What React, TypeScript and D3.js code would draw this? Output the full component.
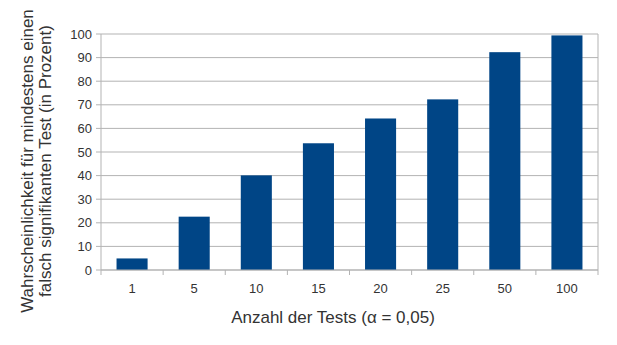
import React from "react";
import * as d3 from "d3";

const categories = ["1", "5", "10", "15", "20", "25", "50", "100"];
const values = [4.9, 22.6, 40.1, 53.7, 64.2, 72.3, 92.3, 99.4];
const yTicks = [0, 10, 20, 30, 40, 50, 60, 70, 80, 90, 100];

const W = 617, H = 345;
const left = 101, right = 598, top = 34, bottom = 270;

export default function App() {
  const x = d3.scaleBand<string>().domain(categories).range([left, right]).paddingInner(0.5).paddingOuter(0.25);
  const xb = d3.scaleBand<string>().domain(categories).range([left, right]);
  const y = d3.scaleLinear().domain([0, 100]).range([bottom, top]);
  const font = "'Liberation Sans', Arial, sans-serif";
  return (
    <svg width={W} height={H} style={{ position: "absolute", left: 0, top: 0, background: "#fff" }} fontFamily={font}>
      {yTicks.map((t) => (
        <g key={t}>
          <line x1={left - 5} x2={right} y1={y(t)} y2={y(t)} stroke="#b3b3b3" strokeWidth={1} />
          <text x={left - 9} y={y(t)} dy="0.35em" textAnchor="end" fontSize={13} fill="#333">{t}</text>
        </g>
      ))}
      <line x1={left} x2={left} y1={top} y2={bottom} stroke="#b3b3b3" />
      <line x1={right} x2={right} y1={top} y2={bottom} stroke="#b3b3b3" />
      {categories.map((c, i) => (
        <rect key={c} x={x(c)} width={x.bandwidth()} y={y(values[i])} height={bottom - y(values[i])} fill="#004586" />
      ))}
      <line x1={left} x2={right} y1={bottom} y2={bottom} stroke="#b3b3b3" />
      {[...categories.map((c) => xb(c) as number), right].map((p, i) => (
        <line key={i} x1={p} x2={p} y1={bottom} y2={bottom + 5} stroke="#b3b3b3" />
      ))}
      {categories.map((c) => (
        <text key={c} x={(xb(c) as number) + xb.bandwidth() / 2} y={288} dy="0.35em" textAnchor="middle" fontSize={13} fill="#333">{c}</text>
      ))}
      <text x={333} y={323} textAnchor="middle" fontSize={17} fill="#333">Anzahl der Tests (α = 0,05)</text>
      <text transform={`translate(0,161) rotate(-90)`} textAnchor="middle" fontSize={17} fill="#333">
        <tspan x={0} y={33}>Wahrscheinlichkeit für mindestens einen</tspan>
        <tspan x={0} y={51}>falsch signifikanten Test (in Prozent)</tspan>
      </text>
    </svg>
  );
}
